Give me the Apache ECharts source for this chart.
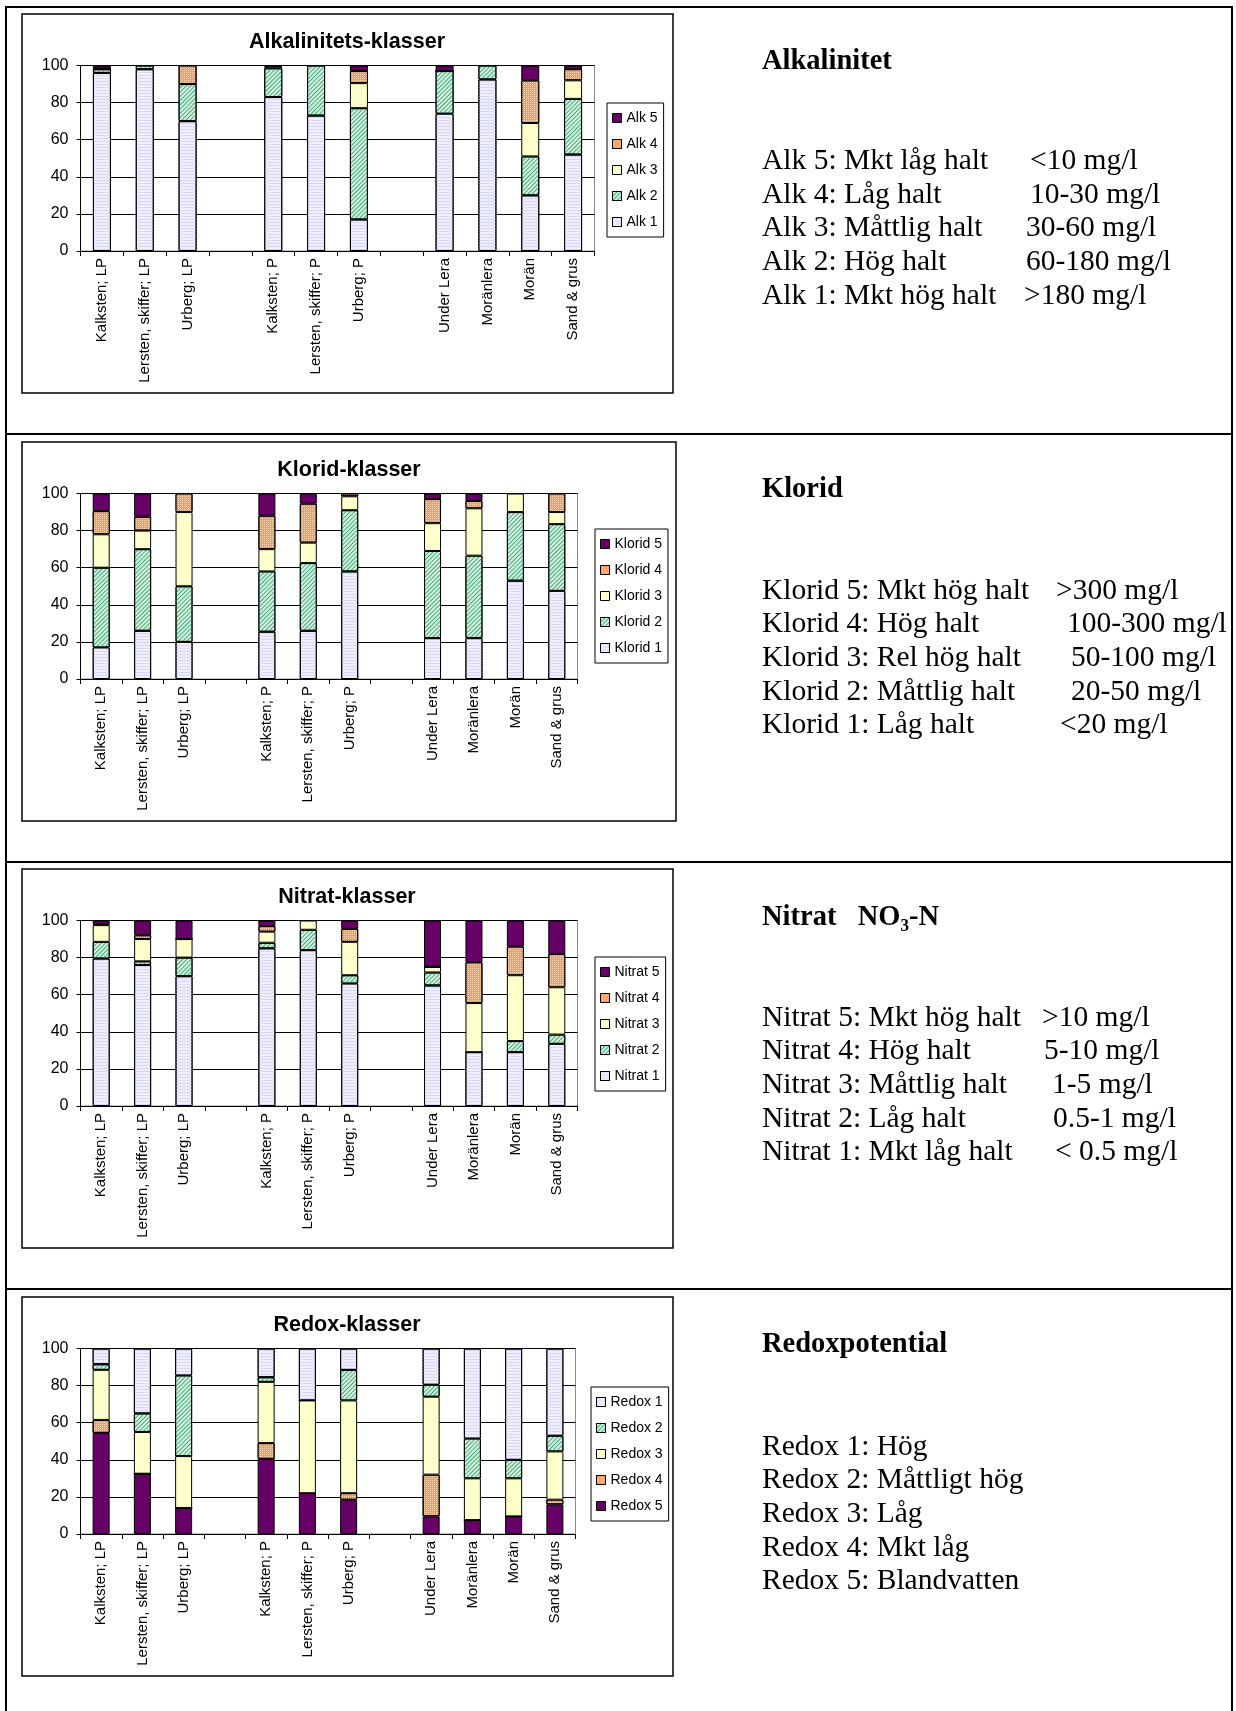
<!DOCTYPE html>
<html><head><meta charset="utf-8">
<script src="https://cdn.jsdelivr.net/npm/echarts@6/dist/echarts.min.js"></script>
<style>html,body{margin:0;padding:0;background:#fff}#c{width:1236px;height:1711px}</style>
</head><body><div id="c"></div>
<script>
// ---------- DATA ----------
const categories = ['Kalksten; LP', 'Lersten, skiffer; LP', 'Urberg; LP', '', 'Kalksten; P', 'Lersten, skiffer; P', 'Urberg; P', '', 'Under Lera', 'Moränlera', 'Morän', 'Sand & grus'];
const yTicks = [0, 20, 40, 60, 80, 100];

const alkTitle = 'Alkalinitets-klasser';
const alkNames = ['Alk 1', 'Alk 2', 'Alk 3', 'Alk 4', 'Alk 5'];
const alk1 = [96, 98, 70, null, 83, 73, 17, null, 74, 92.5, 30, 52];
const alk2 = [2, 2, 20, null, 15.5, 27, 60, null, 23, 7.5, 21, 30];
const alk3 = [0, 0, 0, null, 1, 0, 13.5, null, 0, 0, 18, 10];
const alk4 = [0.5, 0, 10, null, 0.5, 0, 6.5, null, 0, 0, 23, 6];
const alk5 = [1.5, 0, 0, null, 0, 0, 3, null, 3, 0, 8, 2];

const kloTitle = 'Klorid-klasser';
const kloNames = ['Klorid 1', 'Klorid 2', 'Klorid 3', 'Klorid 4', 'Klorid 5'];
const klo1 = [17, 26, 20, null, 25.5, 26, 58, null, 22, 22, 53, 47.5];
const klo2 = [43, 44, 30, null, 32.5, 36.5, 33, null, 47, 44.5, 37, 36];
const klo3 = [18, 10, 40, null, 12, 11, 7.5, null, 15, 25.5, 10, 6.5];
const klo4 = [12.5, 7.5, 10, null, 18, 21, 1.5, null, 13, 4, 0, 10];
const klo5 = [9.5, 12.5, 0, null, 12, 5.5, 0, null, 3, 4, 0, 0];

const nitTitle = 'Nitrat-klasser';
const nitNames = ['Nitrat 1', 'Nitrat 2', 'Nitrat 3', 'Nitrat 4', 'Nitrat 5'];
const nit1 = [79.5, 76, 70, null, 85, 84, 66, null, 65, 29, 29, 33.5];
const nit2 = [9, 2, 10, null, 3, 11, 4.5, null, 7, 0, 6, 5];
const nit3 = [9, 12, 10, null, 6, 5, 18, null, 3, 26.5, 35.5, 25.5];
const nit4 = [0.5, 2, 0, null, 3, 0, 7, null, 0, 22, 15.5, 18];
const nit5 = [2, 8, 10, null, 3, 0, 4.5, null, 25, 22.5, 14, 18];

const redTitle = 'Redox-klasser';
const redNames = ['Redox 5', 'Redox 4', 'Redox 3', 'Redox 2', 'Redox 1'];
const red5 = [54.5, 32.5, 14, null, 40.5, 22, 18.5, null, 9.5, 7.5, 9.5, 16];
const red4 = [7, 0, 0, null, 8.5, 0, 3.5, null, 22.5, 0, 0, 2.5];
const red3 = [27, 22.5, 28, null, 33, 50, 50, null, 42, 22.5, 20.5, 26];
const red2 = [3, 10, 43.5, null, 2.5, 0, 16.5, null, 6.5, 21.5, 10, 8.5];
const red1 = [8.5, 35, 14.5, null, 15.5, 28, 11.5, null, 19.5, 48.5, 60, 47];

const alkHeading = 'Alkalinitet';
const alkLabels = ['Alk 5: Mkt låg halt', 'Alk 4: Låg halt', 'Alk 3: Måttlig halt', 'Alk 2: Hög halt', 'Alk 1: Mkt hög halt'];
const alkRanges = ['<10 mg/l', '10-30 mg/l', '30-60 mg/l', '60-180 mg/l', '>180 mg/l'];
const kloHeading = 'Klorid';
const kloLabels = ['Klorid 5: Mkt hög halt', 'Klorid 4: Hög halt', 'Klorid 3: Rel hög halt', 'Klorid 2: Måttlig halt', 'Klorid 1: Låg halt'];
const kloRanges = ['>300 mg/l', '100-300 mg/l', '50-100 mg/l', '20-50 mg/l', '<20 mg/l'];
const nitHeading = 'Nitrat   NO\u2083-N';
const nitLabels = ['Nitrat 5: Mkt hög halt', 'Nitrat 4: Hög halt', 'Nitrat 3: Måttlig halt', 'Nitrat 2: Låg halt', 'Nitrat 1: Mkt låg halt'];
const nitRanges = ['>10 mg/l', '5-10 mg/l', '1-5 mg/l', '0.5-1 mg/l', '< 0.5 mg/l'];
const redHeading = 'Redoxpotential';
const redLabels = ['Redox 1: Hög', 'Redox 2: Måttligt hög', 'Redox 3: Låg', 'Redox 4: Mkt låg', 'Redox 5: Blandvatten'];
const redRanges = ['', '', '', '', ''];

// ---------- STYLE / LAYOUT ----------
const SANS = '"Liberation Sans", Arial, sans-serif';
const SERIF = '"Liberation Serif", "Times New Roman", serif';

const lev = {
  1: {color: '#EEEEFF', decal: {symbol: 'rect', symbolSize: 1, dashArrayX: [1, 0], dashArrayY: [1, 2], color: '#D8D8F4'}},
  2: {color: '#D6F2E2', decal: {symbol: 'rect', symbolSize: 1, dashArrayX: [1, 0], dashArrayY: [1, 2], rotation: -Math.PI / 4, color: '#44AA77'}},
  3: {color: '#FFFFCC'},
  4: {color: '#FF9955', decal: {symbol: 'rect', symbolSize: 1, dashArrayX: [1, 1], dashArrayY: [1, 1], color: '#FFD0A8'}},
  5: {color: '#660066'}
};

const rowTop = [14, 442, 869, 1297];
const boxW = [651, 654, 651, 651];
const gridW = [514, 497, 497, 495];
const legendPos = [[607, 103], [595, 529], [595, 957], [591, 1387]];
const titleX = [347, 349, 347, 347];

const charts = [
  {title: alkTitle, names: alkNames, data: [alk1, alk2, alk3, alk4, alk5], levels: [1, 2, 3, 4, 5]},
  {title: kloTitle, names: kloNames, data: [klo1, klo2, klo3, klo4, klo5], levels: [1, 2, 3, 4, 5]},
  {title: nitTitle, names: nitNames, data: [nit1, nit2, nit3, nit4, nit5], levels: [1, 2, 3, 4, 5]},
  {title: redTitle, names: redNames, data: [red5, red4, red3, red2, red1], levels: [5, 4, 3, 2, 1]}
];

const texts = [
  {h: alkHeading, l: alkLabels, r: alkRanges, rx: [1030, 1030, 1026, 1026, 1024]},
  {h: kloHeading, l: kloLabels, r: kloRanges, rx: [1056, 1067, 1071, 1071, 1060]},
  {h: nitHeading, l: nitLabels, r: nitRanges, rx: [1042, 1044, 1052, 1053, 1055]},
  {h: redHeading, l: redLabels, r: redRanges, rx: [1040, 1040, 1040, 1040, 1040]}
];
const headOff = [0, 428, 855.5, 1283];
const lineOff = [0, 429.5, 856.5, 1285.5];

const grid = [], xAxis = [], yAxis = [], series = [], legend = [], title = [];
charts.forEach((c, i) => {
  grid.push({left: 80.5, top: rowTop[i] + 51.5, width: gridW[i], height: 185.5,
    show: true, borderColor: '#8a8a8a', borderWidth: 1, backgroundColor: 'transparent'});
  xAxis.push({type: 'category', gridIndex: i, data: categories,
    axisLine: {lineStyle: {color: '#000', width: 1}},
    axisTick: {show: true, length: 5, lineStyle: {color: '#000'}},
    axisLabel: {interval: 0, rotate: 90, fontSize: 15, margin: 7, color: '#000', fontFamily: SANS},
    splitLine: {show: false}});
  yAxis.push({type: 'value', gridIndex: i, min: yTicks[0], max: yTicks[yTicks.length - 1], interval: 20,
    axisLine: {show: true, lineStyle: {color: '#000', width: 1}},
    axisTick: {show: true, length: 4, lineStyle: {color: '#000'}},
    axisLabel: {fontSize: 16, margin: 12, color: '#000', fontFamily: SANS},
    splitLine: {show: true, lineStyle: {color: '#000', width: 1}}});
  c.data.forEach((d, k) => {
    const st = lev[c.levels[k]];
    series.push({type: 'bar', name: c.names[k], xAxisIndex: i, yAxisIndex: i, stack: 's' + i,
      data: d, barWidth: i === 0 ? 18 : 17,
      itemStyle: Object.assign({borderColor: '#000', borderWidth: 1}, st),
      emphasis: {disabled: true}});
  });
  legend.push({orient: 'vertical', left: legendPos[i][0], top: legendPos[i][1],
    data: c.names.slice().reverse(), icon: 'rect', itemWidth: 9, itemHeight: 9, itemGap: 12,
    padding: [8, 6, 8, 5], borderColor: '#000', borderWidth: 1,
    itemStyle: {borderColor: '#000', borderWidth: 1},
    textStyle: {fontSize: 14, color: '#000', fontFamily: SANS}, selectedMode: false});
  title.push({text: c.title, left: titleX[i], top: rowTop[i] + 17, textAlign: 'center', padding: 0,
    textStyle: {fontSize: 21.5, fontWeight: 'bold', color: '#000', fontFamily: SANS}});
});

const graphic = [];
// outer table lines
const L = 6, R = 1232;
graphic.push({type: 'line', shape: {x1: L, y1: 7, x2: R, y2: 7}, style: {stroke: '#000', lineWidth: 2}});
graphic.push({type: 'line', shape: {x1: L, y1: 6, x2: L, y2: 1711}, style: {stroke: '#000', lineWidth: 2}});
graphic.push({type: 'line', shape: {x1: R, y1: 6, x2: R, y2: 1711}, style: {stroke: '#000', lineWidth: 2}});
[434, 862, 1289].forEach(y => graphic.push({type: 'line', shape: {x1: L, y1: y, x2: R, y2: y}, style: {stroke: '#000', lineWidth: 2}}));
// chart boxes
rowTop.forEach((t, i) => graphic.push({type: 'rect', shape: {x: 22, y: t, width: boxW[i], height: 379},
  style: {fill: 'none', stroke: '#000', lineWidth: 1.5}, silent: true}));
// right-side texts
texts.forEach((tx, i) => {
  graphic.push({type: 'text', x: 762, y: 62 + headOff[i], style: {text: tx.h, font: 'bold 28.5px ' + SERIF, fill: '#000', verticalAlign: 'middle'}});
  tx.l.forEach((s, k) => {
    const y = 161.5 + lineOff[i] + k * 33.6;
    graphic.push({type: 'text', x: 762, y: y, style: {text: s, font: '29.5px ' + SERIF, fill: '#000', verticalAlign: 'middle'}});
    if (tx.r[k]) graphic.push({type: 'text', x: tx.rx[k], y: y, style: {text: tx.r[k], font: '29.5px ' + SERIF, fill: '#000', verticalAlign: 'middle'}});
  });
});

const chart = echarts.init(document.getElementById('c'));
chart.setOption({animation: false, backgroundColor: '#fff', title, grid, xAxis, yAxis, series, legend, graphic});
</script>
</body></html>
